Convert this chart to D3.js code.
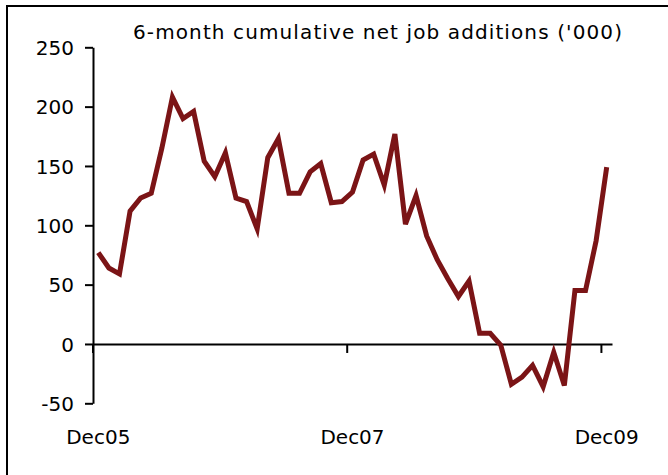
<!DOCTYPE html>
<html>
<head>
<meta charset="utf-8">
<script src="https://cdn.jsdelivr.net/npm/d3@7/dist/d3.min.js"></script>
<style>
	body { margin: 0; background: #fff; }
	svg { display: block; }
	text { font-family: "DejaVu Sans", Verdana, sans-serif; fill: #000; }
</style>
</head>
<body>
<svg width="668" height="475"></svg>
<script>
/*
Data: monthly points, Dec05 .. Dec09
*/

var months = d3.timeMonth.range(new Date(2005, 11, 1), new Date(2010, 0, 1));

var jobAdds = [
	77, 64, 59, 112, 123, 127, 165, 208, 190, 196,
	154, 141, 161, 123, 120, 97, 157, 173, 127, 127,
	145, 152, 119, 120, 128, 155, 160, 134, 177, 101,
	125, 91, 71, 55, 40, 53, 9, 9, -1, -34,
	-28, -18, -36, -7, -35, 45, 45, 87, 149
];

var yTicks = [-50, 0, 50, 100, 150, 200, 250];
var xLabels = ['Dec05', 'Dec07', 'Dec09'];
var titleText = "6-month cumulative net job additions ('000)";

var lineColor = '#7b1416';

/*
Set up SVG
*/

var svg = d3.select('svg');

// chart border, runs off the right and bottom of the picture
svg.append('rect')
	.attr('x', 7).attr('y', 6)
	.attr('width', 680).attr('height', 490)
	.attr('fill', 'none')
	.attr('stroke', '#000')
	.attr('stroke-width', 2);

var x = d3.scaleBand()
	.domain(d3.range(months.length))
	.range([93, 612])
	.paddingInner(0).paddingOuter(0);

var y = d3.scaleLinear()
	.domain([-50, 250])
	.range([403.3, 47.3]);

/*
Axes
*/

var yAxis = svg.append('g')
	.attr('transform', 'translate(93,0)')
	.call(d3.axisLeft(y)
		.tickValues(yTicks)
		.tickSize(8).tickSizeOuter(0).tickPadding(11)
		.tickFormat(function(d){ return String(d); }));  // plain hyphen minus

yAxis.select('.domain').attr('stroke-width', 2);
yAxis.selectAll('.tick line').attr('stroke-width', 2);
yAxis.selectAll('.tick text')
	.attr('font-size', 20)
	.attr('font-family', '"DejaVu Sans", Verdana, sans-serif')
	.attr('dy', '0.36em');

// category boundaries that carry a tick mark
var monthLabel = d3.timeFormat('%b%y');
var tickIdx = xLabels.map(function(l){
	return months.findIndex(function(m){ return monthLabel(m) == l; });
});

var xAxis = svg.append('g')
	.attr('transform', 'translate(0,' + y(0) + ')')
	.call(d3.axisBottom(x).tickValues(tickIdx).tickSize(9).tickSizeOuter(0).tickFormat(''));

xAxis.selectAll('.tick').attr('transform', function(d){ return 'translate(' + x(d) + ',0)'; });
xAxis.select('.domain').attr('stroke-width', 2);
xAxis.selectAll('.tick line').attr('stroke-width', 2);

// labels sit low, at the bottom of the plot
svg.append('g')
	.selectAll('text')
	.data(tickIdx)
	.enter().append('text')
		.attr('x', function(d){ return x(d) + x.bandwidth() / 2; })
		.attr('y', 444)
		.attr('text-anchor', 'middle')
		.attr('font-size', 20)
		.text(function(d, i){ return xLabels[i]; });

/*
Title
*/

svg.append('text')
	.attr('x', 377.5)
	.attr('y', 39)
	.attr('text-anchor', 'middle')
	.attr('font-size', 20)
	.attr('textLength', 489)
	.attr('lengthAdjust', 'spacing')
	.text(titleText);

/*
The series line
*/

var line = d3.line()
	.x(function(d, i){ return x(i) + x.bandwidth() / 2; })
	.y(function(d){ return y(d); });

svg.append('path')
	.datum(jobAdds)
	.attr('d', line)
	.attr('fill', 'none')
	.attr('stroke', lineColor)
	.attr('stroke-width', 5)
	.attr('stroke-linejoin', 'miter');
</script>
</body>
</html>
